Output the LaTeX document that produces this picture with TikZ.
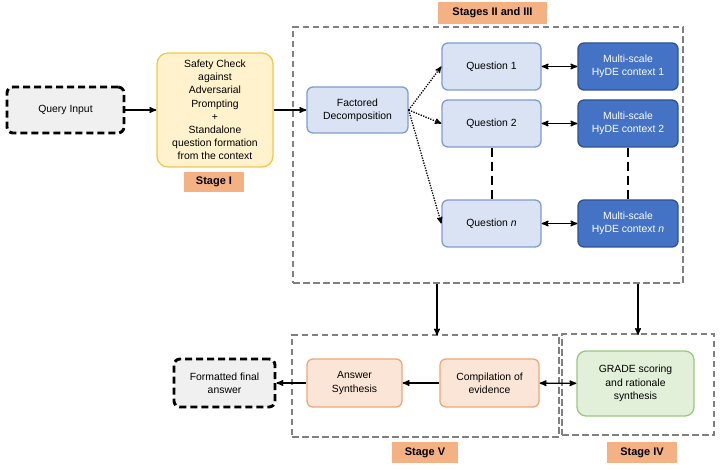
\documentclass[tikz,border=0pt]{standalone}
\usepackage{fontspec}
\setmainfont{Liberation Sans}
\usetikzlibrary{arrows,positioning}
\definecolor{qfill}{HTML}{DAE3F3}
\definecolor{qdraw}{HTML}{7F9CCF}
\definecolor{hfill}{HTML}{4472C4}
\definecolor{hdraw}{HTML}{2F528F}
\definecolor{sfill}{HTML}{FFF2CC}
\definecolor{sdraw}{HTML}{F2C84B}
\definecolor{afill}{HTML}{FBE5D6}
\definecolor{adraw}{HTML}{EDA878}
\definecolor{gfill}{HTML}{E2F0D9}
\definecolor{gdraw}{HTML}{9CC67E}
\definecolor{lab}{HTML}{F4B183}
\tikzset{
    %Define standard arrow tip
    >=stealth',
    %Define style for boxes
    box/.style={
           rectangle,
           rounded corners=6pt,
           line width=1.3pt,
           inner sep=0pt,
           align=center,
           font=\fontsize{10.4}{13.2}\selectfont},
    inout/.style={
           box,
           draw=black, line width=2.9pt,
           dash pattern=on 7pt off 4pt,
           fill=black!6},
    safety/.style={box, rounded corners=11pt, draw=sdraw, fill=sfill},
    question/.style={box, draw=qdraw, fill=qfill},
    hyde/.style={box, draw=hdraw, fill=hfill, text=white},
    answer/.style={box, draw=adraw, fill=afill},
    grade/.style={box, rounded corners=9pt, draw=gdraw, fill=gfill},
    %Define style for stage frames and labels
    stage/.style={
           rectangle,
           draw=black!50, line width=2pt,
           dash pattern=on 6.5pt off 3.5pt},
    stagelab/.style={
           rectangle,
           fill=lab,
           inner sep=0pt,
           font=\fontsize{11}{13}\selectfont\bfseries},
    % Define arrow style
    pil/.style={->, line width=1.4pt},
    dpil/.style={<->, line width=1.4pt},
    dots/.style={->, line width=1.3pt, dash pattern=on 1.3pt off 1.3pt},
    vdash/.style={line width=2pt, dash pattern=on 9pt off 5pt}
}
\begin{document}
\begin{tikzpicture}[x=1pt,y=-1pt]
\useasboundingbox (0,0) rectangle (720,470);
% stage frames
\node[stage, minimum width=390pt, minimum height=256pt](stg23) at (488,155){};
\node[stagelab, minimum width=109pt, minimum height=22pt](lab23) at (492.5,13){Stages II and III};
\node[stage, minimum width=267pt, minimum height=102pt](stg5) at (425.5,385.5){};
\node[stage, minimum width=152pt, minimum height=101pt](stg4) at (638,384.5){};
\node[stagelab, minimum width=66pt, minimum height=21pt](lab5) at (425,452.5){Stage V};
\node[stagelab, minimum width=70pt, minimum height=21pt](lab4) at (642,452.5){Stage IV};

% stage I
\node[inout, minimum width=117pt, minimum height=46pt](query) at (65.5,110){Query Input};
\node[safety, minimum width=116pt, minimum height=114pt](safe) at (215,110){Safety Check\\against\\Adversarial\\Prompting\\+\\Standalone\\question formation\\from the context};
\node[stagelab, minimum width=60pt, minimum height=20pt](lab1) at (214,182){Stage I};

% stages II and III
\node[question, minimum width=101pt, minimum height=46pt](fact) at (357.5,110){Factored\\Decomposition};
\node[question, minimum width=99pt, minimum height=47pt](q1) at (491.5,66.5){Question 1};
\node[question, minimum width=99pt, minimum height=47pt](q2) at (491.5,123.5){Question 2};
\node[question, minimum width=99pt, minimum height=47pt](qn) at (491.5,223.5){Question \textit{n}};
\node[hyde, minimum width=100pt, minimum height=47pt](h1) at (628,66.5){Multi-scale\\HyDE context 1};
\node[hyde, minimum width=100pt, minimum height=47pt](h2) at (628,123.5){Multi-scale\\HyDE context 2};
\node[hyde, minimum width=100pt, minimum height=47pt](hn) at (628,223.5){Multi-scale\\HyDE context \textit{n}};

% stages IV and V
\node[inout, minimum width=101pt, minimum height=48pt](final) at (224.5,383){Formatted final\\answer};
\node[answer, minimum width=95pt, minimum height=48pt](ans) at (354.5,383){Answer\\Synthesis};
\node[answer, minimum width=99pt, minimum height=48pt](comp) at (489.5,383){Compilation of\\evidence};
\node[grade, minimum width=117pt, minimum height=65pt](grd) at (635.5,383.5){GRADE scoring\\and rationale\\synthesis};

\coordinate (d1) at (437,0);
\coordinate (d2) at (638,0);

\path[pil] (query) edge (safe) (safe) edge (fact);
\path[dots] (fact.east) edge (q1.west) (fact.east) edge (q2.west) (fact.east) edge (qn.west);
\path[dpil] (q1) edge (h1) (q2) edge (h2) (qn) edge (hn);
\path[vdash] (q2) edge (qn) (h2) edge (hn);
\draw[pil] (stg23.south -| d1) -- ([yshift=-2pt]stg5.north -| d1);
\draw[pil] (stg23.south -| d2) -- ([yshift=-2pt]stg4.north -| d2);
\path[dpil] (comp) edge (grd);
\path[pil] (comp) edge (ans) (ans) edge (final);
\end{tikzpicture}
\end{document}
